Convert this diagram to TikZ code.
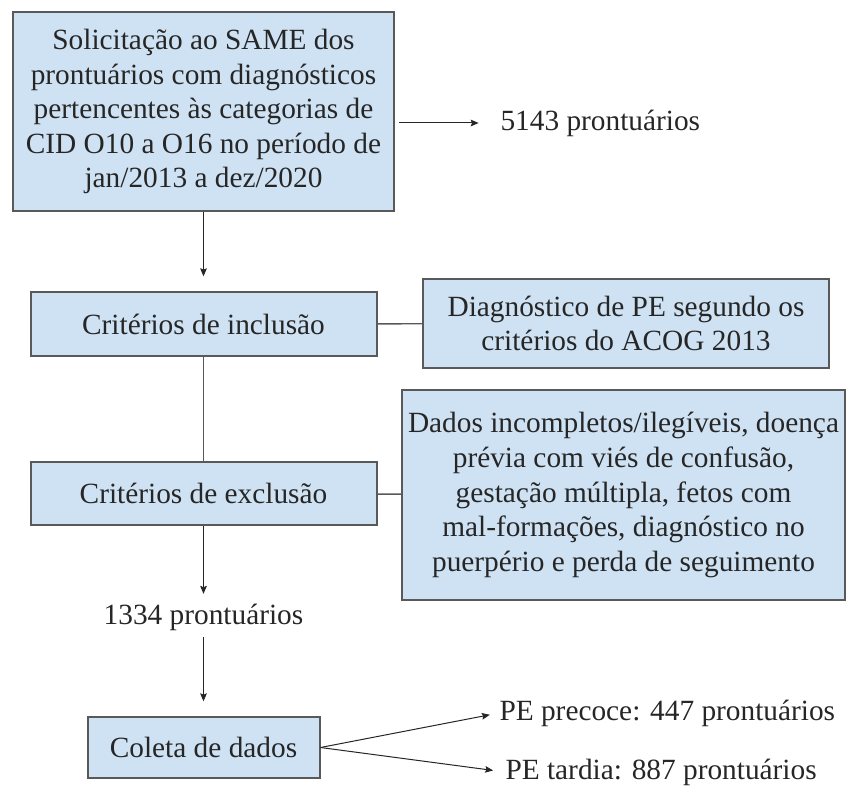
\documentclass[tikz,border=0pt]{standalone}
\usepackage{fontspec}
\setmainfont{LiberationSerif}[Extension=.ttf, UprightFont=*-Regular, BoldFont=*-Bold, ItalicFont=*-Italic, BoldItalicFont=*-BoldItalic]
\usetikzlibrary{arrows.meta}

\definecolor{azulclaro}{RGB}{207,226,243}
\definecolor{bordacinza}{RGB}{89,89,89}

\tikzset{every picture/.style={line width=0.75pt}}
\tikzset{
  bloco/.style={draw=bordacinza, fill=azulclaro, line width=1.5pt, align=center, inner sep=0pt, text=black!85, font=\fontsize{22}{25.9}\selectfont},
  rotulo/.style={inner sep=0pt, text=black!85, font=\fontsize{22}{25.9}\selectfont},
  seta/.style={draw=black!85, line width=0.75pt, -{Stealth[length=6pt,width=5pt,inset=1pt]}},
  liga/.style={draw=bordacinza, line width=1.1pt}
}

\begin{document}
\begin{tikzpicture}[x=0.75pt,y=0.75pt,yscale=-1,xscale=1]
	\useasboundingbox (0,0) rectangle (847,792);

	%Shape: Rectangle
	\node [bloco, minimum width=285.75pt, minimum height=149.25pt] (solic) at (203.5,111.5) {Solicitação ao SAME dos\\prontuários com diagnósticos\\pertencentes às categorias de\\CID O10 a O16 no período de\\jan/2013 a dez/2020};
	%Shape: Rectangle
	\node [bloco, minimum width=259.5pt, minimum height=48pt] (incl) at (203.5,324) {Critérios de inclusão};
	%Shape: Rectangle
	\node [bloco, minimum width=304.5pt, minimum height=66.75pt] (diag) at (626,323.5) {Diagnóstico de PE segundo os\\critérios do ACOG 2013};
	%Shape: Rectangle
	\node [bloco, minimum width=259.5pt, minimum height=47.25pt] (excl) at (203.5,493.5) {Critérios de exclusão};
	%Shape: Rectangle
	\node [bloco, minimum width=332.25pt, minimum height=157.5pt] (dados) at (623.5,495) {Dados incompletos/ilegíveis, doença\\prévia com viés de confusão,\\gestação múltipla, fetos com\\mal-formações, diagnóstico no\\puerpério e perda de seguimento};
	%Shape: Rectangle
	\node [bloco, minimum width=174pt, minimum height=45.75pt] (coleta) at (203.5,747.5) {Coleta de dados};

	% Text Node
	\node [rotulo, anchor=west] (n5143) at (500,123) {5143 prontuários};
	% Text Node
	\node [rotulo] (n1334) at (203.5,617) {1334 prontuários};
	% Text Node
	\node [rotulo, anchor=west] (precoce) at (499,713) {PE precoce: 447 prontuários};
	% Text Node
	\node [rotulo, anchor=west] (tardia) at (505,772) {PE tardia: 887 prontuários};

	%Straight Lines
	\draw [seta, shorten <=3pt, shorten >=16pt] (solic.east |- n5143) -- (n5143.west);
	%Straight Lines
	\draw [seta, shorten >=11pt] (solic) -- (incl);
	%Straight Lines
	\draw [liga] (incl) -- (diag);
	%Straight Lines
	\draw [liga] (incl) -- (excl);
	%Straight Lines
	\draw [liga] (excl) -- (dados);
	%Straight Lines
	\draw [seta, shorten >=7pt] (excl) -- (n1334);
	%Straight Lines
	\draw [seta, shorten <=5pt, shorten >=11pt] (n1334) -- (coleta);
	%Straight Lines
	\draw [seta, shorten >=7pt] (coleta.east) -- (precoce.west);
	%Straight Lines
	\draw [seta, shorten >=9pt] (coleta.east) -- (tardia.west);

\end{tikzpicture}
\end{document}
